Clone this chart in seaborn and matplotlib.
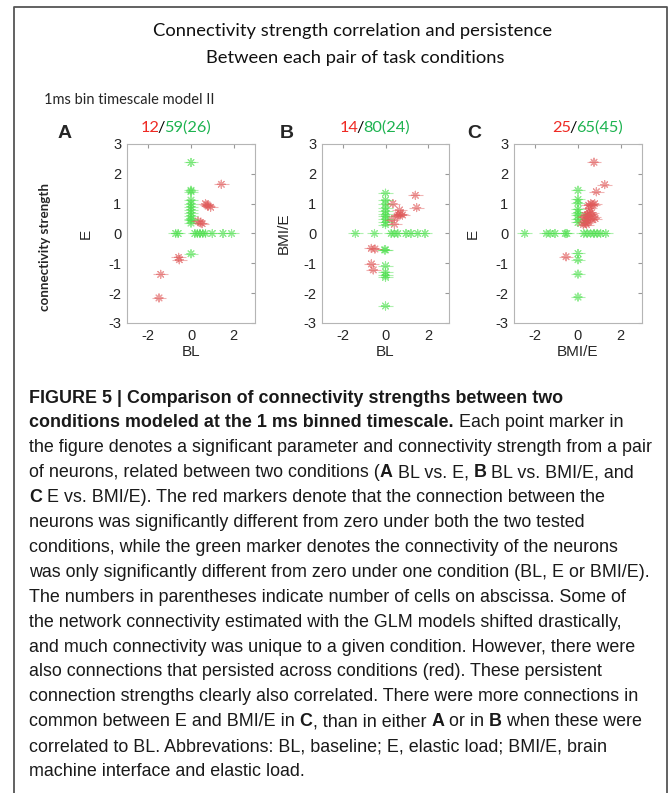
import matplotlib
matplotlib.use("Agg")
import pandas as pd
import matplotlib.pyplot as plt
import seaborn as sns
from matplotlib import font_manager

# ---- data ----
# panel A : BL (x) vs E (y)
a_red_x = [1.42, 0.68, 0.75, 0.92, 0.80, 0.33, 0.45, 0.52, -0.58, -0.55, -1.42, -1.50]
a_red_y = [1.65, 1.00, 0.96, 0.88, 0.92, 0.42, 0.36, 0.33, -0.80, -0.88, -1.37, -2.16]
a_green_x = [0, 0, 0, 0, 0, 0, 0, 0, 0, 0, 0, 0, 0,
             -0.72, -0.60, 0.18, 0.30, 0.42, 0.55, 0.68, 1.00, 1.50, 1.90]
a_green_y = [2.38, 1.45, 1.40, 1.12, 1.00, 0.90, 0.80, 0.70, 0.60, 0.50, 0.45, 0.35, -0.68,
             0, 0, 0, 0, 0, 0, 0, 0, 0, 0]

# panel B : BL (x) vs BMI/E (y)
b_red_x = [1.41, 1.47, 0.35, 0.66, 0.60, 0.72, 0.80, 0.55, 0.30, 0.42, -0.67, -0.50, -0.67, -0.58]
b_red_y = [1.28, 0.87, 1.00, 0.79, 0.62, 0.65, 0.62, 0.58, 0.46, 0.31, -0.50, -0.52, -1.02, -1.22]
b_green_x = [0, 0, 0, 0, 0, 0, 0, 0, 0, 0,
             -1.42, -0.52, 0.27, 0.42, 0.58, 0.97, 1.20, 1.52, 1.87,
             0, -0.05, 0, 0, 0, 0, 0]
b_green_y = [1.35, 1.12, 1.00, 0.87, 0.76, 0.64, 0.58, 0.48, 0.37, 0.30,
             0, 0, 0, 0, 0, 0, 0, 0, 0,
             -0.55, -0.55, -1.08, -1.30, -1.40, -1.47, -2.43]

# panel C : BMI/E (x) vs E (y)
c_red_x = [0.75, 1.25, 0.86, 0.78, 0.60, 0.50, 0.70, 0.50, 0.55, 0.35, 0.45, 0.40, 0.30,
           0.35, 0.25, 0.60, 0.75, 0.80, 0.50, 0.30, 0.45, 0.65, 0.40, 0.55, -0.56]
c_red_y = [2.39, 1.64, 1.40, 1.00, 1.00, 0.95, 0.96, 0.72, 0.66, 0.60, 0.50, 0.45, 0.40,
           0.35, 0.30, 0.50, 0.55, 0.50, 0.40, 0.55, 0.62, 0.70, 0.30, 0.85, -0.78]
c_green_x = [-2.50, -1.48, -1.30, -1.08, -0.60, -0.52, 0.27, 0.43, 0.59, 0.75, 0.90, 1.06, 1.30,
             0, 0, 0, 0, 0, 0, 0, 0,
             0, 0, 0, 0]
c_green_y = [0, 0, 0, 0, 0, 0, 0, 0, 0, 0, 0, 0, 0,
             1.45, 1.14, 1.03, 0.81, 0.70, 0.61, 0.48, 0.37,
             -0.67, -0.88, -1.36, -2.13]

panel_letters = ["A", "B", "C"]
panel_counts = [("12", "59(26)"), ("14", "80(24)"), ("25", "65(45)")]
x_labels = ["BL", "BL", "BMI/E"]
y_labels = ["E", "BMI/E", "E"]
ticks = [-2, 0, 2]
yticks = [-3, -2, -1, 0, 1, 2, 3]

# ---- style ----
sns.set_style("white")
plt.rcParams["font.family"] = ["Liberation Sans", "DejaVu Sans"]
plt.rcParams["axes.unicode_minus"] = False

W, H = 669, 793
fig = plt.figure(figsize=(W / 100, H / 100), dpi=100)
fig.patch.set_facecolor("white")


def fx(px):
    return px / W


def fy(py):
    return 1 - py / H


RED = "#ee2a24"
GREEN = "#1db350"
MARK_RED = "#e05a5a"
MARK_GREEN = "#4ee04e"

# outer frame (left, top, right)
fig.add_artist(plt.Line2D([fx(14), fx(14), fx(667), fx(667)],
                          [0, fy(7), fy(7), 0], transform=fig.transFigure,
                          color="#555555", lw=1.3))

fig.text(fx(353), fy(31), "Connectivity strength correlation and persistence",
         ha="center", va="center", fontsize=13.2, family="Lato", color="#111111")
fig.text(fx(355), fy(58), "Between each pair of task conditions",
         ha="center", va="center", fontsize=13.2, family="Lato", color="#111111")
fig.text(fx(44), fy(100), "1ms bin timescale model II",
         ha="left", va="center", fontsize=10.5, family="Lato")

renderer = fig.canvas.get_renderer()


def ext(s, **kw):
    t = fig.text(0, 0, s, **kw)
    w = t.get_window_extent(renderer).width
    t.remove()
    return w


def run_width(s, **kw):
    return ext("|" + s + "|", **kw) - ext("||", **kw)


def draw_runs(x, y, runs, **common):
    for s, kw in runs:
        fig.text(fx(x), fy(y), s, ha="left", va="center", **{**common, **kw})
        x += run_width(s, **{**common, **kw})


axes_left = [127, 322, 514]
axes_w = [128, 127, 128]
title_cx = [177, 376, 589]
letter_x = [58, 280, 467]
ylab_x = [-0.265, -0.245, -0.265]
data = [(a_red_x, a_red_y, a_green_x, a_green_y),
        (b_red_x, b_red_y, b_green_x, b_green_y),
        (c_red_x, c_red_y, c_green_x, c_green_y)]

for i in range(3):
    ax = fig.add_axes([fx(axes_left[i]), fy(323), axes_w[i] / W, 179 / H])
    rx, ry, gx, gy = data[i]
    df = pd.DataFrame({
        "x": gx + rx,
        "y": gy + ry,
        "kind": ["one"] * len(gx) + ["both"] * len(rx),
    })
    pal = {"one": MARK_GREEN, "both": MARK_RED}
    sns.scatterplot(data=df, x="x", y="y", hue="kind", palette=pal, ax=ax,
                    marker=(8, 2, 0), s=34, linewidth=0.8, alpha=0.6, legend=False)
    sns.scatterplot(data=df, x="x", y="y", hue="kind", palette=pal, ax=ax,
                    marker="_", s=110, linewidth=0.8, alpha=0.45, legend=False)
    ax.set_xlim(-3, 3)
    ax.set_ylim(-3, 3)
    ax.set_xticks(ticks)
    ax.set_yticks(yticks)
    ax.tick_params(direction="in", length=3, color="#999999", labelsize=10.5,
                   top=True, right=True, pad=4)
    for sp in ax.spines.values():
        sp.set_color("#b5b5b5")
        sp.set_linewidth(0.8)
    ax.set_xlabel(x_labels[i], fontsize=11)
    ax.set_ylabel(y_labels[i], fontsize=11)
    ax.xaxis.set_label_coords(0.5, -0.125)
    ax.yaxis.set_label_coords(ylab_x[i], 0.5)

    fig.text(fx(letter_x[i]), fy(133), panel_letters[i], ha="left", va="center",
             fontsize=14, fontweight="bold")
    # coloured count label "red/green", each piece placed at its ink position
    red_n, green_n = panel_counts[i]
    full = red_n + "/" + green_n
    tkw = dict(fontsize=11.8, family="Lato")
    left = title_cx[i] - ext(full, **tkw) / 2
    pieces = [(red_n, RED, 0, 0), ("/", "black", len(red_n), -1.5),
              (green_n, GREEN, len(red_n) + 1, -3)]
    for s, col, k, nudge in pieces:
        off = ext(full[:k + 1], **tkw) - ext(full[k], **tkw) if k > 0 else 0
        fig.text(fx(left + off + nudge), fy(128), s, color=col, ha="left", va="center", **tkw)

fig.text(fx(45), fy(247), "connectivity strength", rotation=90, ha="center", va="center",
         fontsize=9.6, fontweight="bold", family="Lato")

# ---- caption ----
names = {f.name for f in font_manager.fontManager.ttflist}
cap_font = "Liberation Sans Narrow" if "Liberation Sans Narrow" in names else "Liberation Sans"
B = {"fontweight": "bold"}
R = {}
caption = [
    [("FIGURE 5 | Comparison of connectivity strengths between two", B)],
    [("conditions modeled at the 1 ms binned timescale.", B), (" Each point marker in", R)],
    [("the figure denotes a significant parameter and connectivity strength from a pair", R)],
    [("of neurons, related between two conditions (", R), ("A", B), (" BL vs. E, ", R),
     ("B", B), (" BL vs. BMI/E, and", R)],
    [("C", B), (" E vs. BMI/E). The red markers denote that the connection between the", R)],
    [("neurons was significantly different from zero under both the two tested", R)],
    [("conditions, while the green marker denotes the connectivity of the neurons", R)],
    [("was only significantly different from zero under one condition (BL, E or BMI/E).", R)],
    [("The numbers in parentheses indicate number of cells on abscissa. Some of", R)],
    [("the network connectivity estimated with the GLM models shifted drastically,", R)],
    [("and much connectivity was unique to a given condition. However, there were", R)],
    [("also connections that persisted across conditions (red). These persistent", R)],
    [("connection strengths clearly also correlated. There were more connections in", R)],
    [("common between E and BMI/E in ", R), ("C", B), (", than in either ", R), ("A", B),
     (" or in ", R), ("B", B), (" when these were", R)],
    [("correlated to BL. Abbrevations: BL, baseline; E, elastic load; BMI/E, brain", R)],
    [("machine interface and elastic load.", R)],
]
base = 13
w_ref = run_width(caption[2][0][0], family=cap_font, fontsize=base)
cap_size = base * 622 / w_ref
for k, line in enumerate(caption):
    draw_runs(29, 398 + k * 24.9, line, family=cap_font, fontsize=cap_size, color="#1a1a1a")

fig.savefig("out.png", dpi=100, facecolor="white")
